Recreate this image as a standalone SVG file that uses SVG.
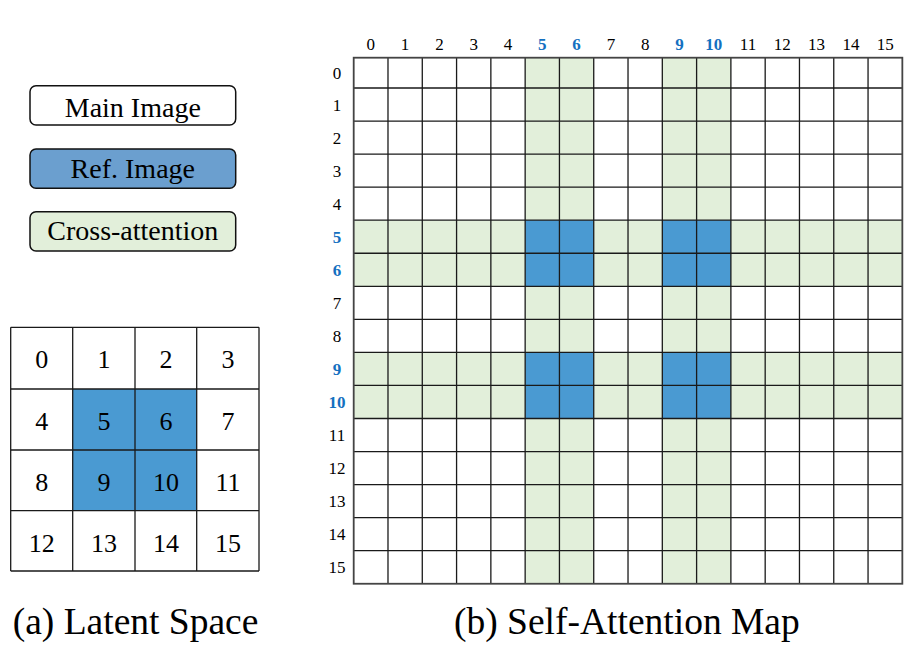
<svg xmlns="http://www.w3.org/2000/svg" width="922" height="652" viewBox="0 0 922 652">
<style>
  text { font-family: "Liberation Serif", "Times New Roman", serif; fill: #000; }
  .legend { font-size: 28px; text-anchor: middle; }
  .lbox { stroke: #111; stroke-width: 1.5; }
  .ax { font-size: 17px; text-anchor: middle; }
  .hl { fill: #1470C0; font-weight: bold; }
  .lat { font-size: 26px; text-anchor: middle; }
  .cap { font-size: 37.5px; }
  .green { fill: #E2EFDA; }
  .blue { fill: #4A9AD2; }
  .grid { fill: none; stroke: #1a1a1a; stroke-width: 1.3; }
  .border { fill: none; stroke: #444; stroke-width: 1.8; }
</style>
<rect width="922" height="652" fill="#fff"/>

<g id="legend-main">
  <rect class="lbox" x="30" y="85.7" width="205.7" height="39.3" rx="6" fill="#fff"/>
  <text class="legend" x="132.8" y="116.7">Main Image</text>
</g>
<g id="legend-ref">
  <rect class="lbox" x="30" y="149" width="205.7" height="39.3" rx="6" fill="#6B9FCF"/>
  <text class="legend" x="132.8" y="178.3">Ref. Image</text>
</g>
<g id="legend-cross">
  <rect class="lbox" x="30" y="211.7" width="205.7" height="39.3" rx="6" fill="#E2EFDA"/>
  <text class="legend" x="132.8" y="240.3">Cross-attention</text>
</g>

<g id="latent-space">
  <rect class="blue" x="72.7" y="389" width="124" height="121.7"/>
  <path class="grid" stroke="#333" d="M10.7 327.3H259M10.7 389H259M10.7 450H259M10.7 510.7H259M10.7 571H259M10.7 327.3V571M72.7 327.3V571M135 327.3V571M196.7 327.3V571M259 327.3V571"/>
  <g class="lat">
    <text x="41.7" y="368.3">0</text><text x="103.9" y="368.3">1</text><text x="165.9" y="368.3">2</text><text x="227.9" y="368.3">3</text>
    <text x="41.7" y="430">4</text><text x="103.9" y="430">5</text><text x="165.9" y="430">6</text><text x="227.9" y="430">7</text>
    <text x="41.7" y="490.7">8</text><text x="103.9" y="490.7">9</text><text x="165.9" y="490.7">10</text><text x="227.9" y="490.7">11</text>
    <text x="41.7" y="551.7">12</text><text x="103.9" y="551.7">13</text><text x="165.9" y="551.7">14</text><text x="227.9" y="551.7">15</text>
  </g>
</g>

<g id="attention-map">
  <rect class="green" x="525.15" y="57.7" width="68.58" height="526.05"/>
  <rect class="green" x="662.31" y="57.7" width="68.58" height="526.05"/>
  <rect class="green" x="353.7" y="220.2" width="548.64" height="66.1"/>
  <rect class="green" x="353.7" y="352.4" width="548.64" height="66.1"/>
  <rect class="blue" x="525.15" y="220.2" width="68.58" height="66.1"/>
  <rect class="blue" x="662.31" y="220.2" width="68.58" height="66.1"/>
  <rect class="blue" x="525.15" y="352.4" width="68.58" height="66.1"/>
  <rect class="blue" x="662.31" y="352.4" width="68.58" height="66.1"/>
  <path class="grid" d="M353.7 88H902.34M353.7 121.05H902.34M353.7 154.1H902.34M353.7 187.15H902.34M353.7 220.2H902.34M353.7 253.25H902.34M353.7 286.3H902.34M353.7 319.35H902.34M353.7 352.4H902.34M353.7 385.45H902.34M353.7 418.5H902.34M353.7 451.55H902.34M353.7 484.6H902.34M353.7 517.65H902.34M353.7 550.7H902.34
  M387.99 57.7V583.75M422.28 57.7V583.75M456.57 57.7V583.75M490.86 57.7V583.75M525.15 57.7V583.75M559.44 57.7V583.75M593.73 57.7V583.75M628.02 57.7V583.75M662.31 57.7V583.75M696.6 57.7V583.75M730.89 57.7V583.75M765.18 57.7V583.75M799.47 57.7V583.75M833.76 57.7V583.75M868.05 57.7V583.75"/>
  <rect class="border" x="353.7" y="57.7" width="548.64" height="526.05"/>
  <g class="ax">
    <text x="370.85" y="50">0</text><text x="405.1" y="50">1</text><text x="439.4" y="50">2</text><text x="473.7" y="50">3</text>
    <text x="508" y="50">4</text><text class="hl" x="542.3" y="50">5</text><text class="hl" x="576.6" y="50">6</text><text x="610.9" y="50">7</text>
    <text x="645.2" y="50">8</text><text class="hl" x="679.5" y="50">9</text><text class="hl" x="713.7" y="50">10</text><text x="748" y="50">11</text>
    <text x="782.3" y="50">12</text><text x="816.6" y="50">13</text><text x="850.9" y="50">14</text><text x="885.2" y="50">15</text>
  </g>
  <g class="ax">
    <text x="337" y="78.9">0</text><text x="337" y="110.5">1</text><text x="337" y="143.6">2</text><text x="337" y="176.6">3</text>
    <text x="337" y="209.7">4</text><text class="hl" x="337" y="242.7">5</text><text class="hl" x="337" y="275.8">6</text><text x="337" y="308.8">7</text>
    <text x="337" y="341.9">8</text><text class="hl" x="337" y="374.9">9</text><text class="hl" x="337" y="408">10</text><text x="337" y="441">11</text>
    <text x="337" y="474.1">12</text><text x="337" y="507.1">13</text><text x="337" y="540.2">14</text><text x="337" y="573.2">15</text>
  </g>
</g>

<g id="captions">
  <text class="cap" x="12.7" y="633.5">(a) Latent Space</text>
  <text class="cap" x="454" y="633.5">(b) Self-Attention Map</text>
</g>
</svg>
